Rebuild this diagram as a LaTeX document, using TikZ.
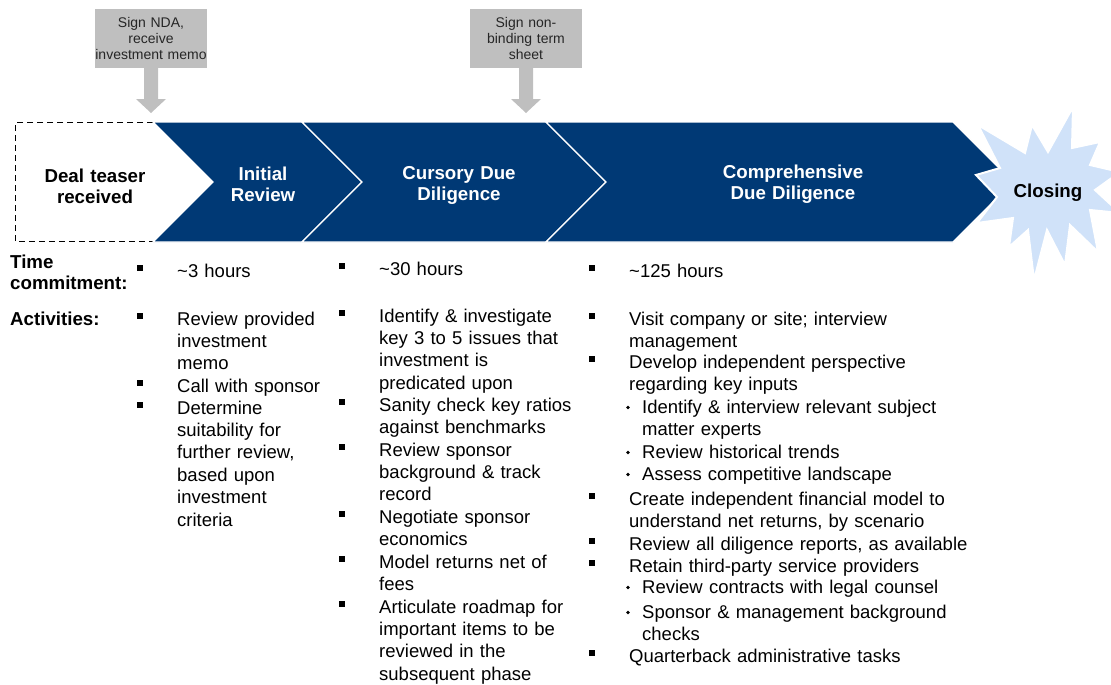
\documentclass[tikz,border=0pt]{standalone}
\usepackage{fontspec}
\setmainfont{Liberation Sans}
\usetikzlibrary{calc}

\definecolor{phaseblue}{RGB}{0,57,117}
\definecolor{sealblue}{RGB}{208,226,249}
\definecolor{calloutgray}{RGB}{191,191,191}
\definecolor{callouttext}{RGB}{38,38,38}

\newcommand\bodyfont{\fontsize{18.5}{22.4}\selectfont}
\newcommand\headfont{\bfseries\fontsize{18.7}{21}\selectfont}
\newcommand\notefont{\fontsize{14}{16}\selectfont}

\tikzset{
  body/.style={font=\bodyfont, inner sep=0, anchor=base west, text width=420, align=left},
  rowlabel/.style={font=\headfont, inner sep=0, anchor=base west, text width=140, align=left},
  phasetext/.style={font=\headfont, inner sep=0, anchor=base, text width=200, align=center},
  phase/.style={fill=phaseblue, draw=white, line width=1.2pt, line join=miter},
  teaserframe/.style={draw=black, line width=1.2pt, dash pattern=on 6pt off 4pt},
  callout/.style={fill=calloutgray, text=callouttext, font=\notefont, inner sep=0,
    minimum width=112, minimum height=59, text width=112, align=center},
  calloutarrow/.style={fill=calloutgray},
  seal/.style={fill=sealblue, draw=white, line width=2pt, line join=miter},
  sqbullet/.style={fill=black, inner sep=0, minimum size=6.5, rectangle},
  dotbullet/.style={fill=black, inner sep=0, minimum size=3.8, circle},
}

% square-bullet item: name, text x, first baseline y, text
\newcommand\sqitem[4]{%
  \node[sqbullet] (#1b) at (#2-37,#3-9) {};
  \node[body] (#1) at (#2,#3) {#4};}
% dot-bullet sub item
\newcommand\dotitem[4]{%
  \node[dotbullet] (#1b) at (#2-14,#3-5.5) {};
  \node[body] (#1) at (#2,#3) {#4};}

\begin{document}
\begin{tikzpicture}[x=1pt,y=-1pt]
\useasboundingbox (0,0) rectangle (1111,685);
\clip (0,0) rectangle (1111,685);

% starting point: dashed frame open on the right
\draw[teaserframe] (153,122.5) -- (15.5,122.5) -- (15.5,241.5) -- (153,241.5);

% phase chevrons
\filldraw[phase] (153,122) -- (302,122) -- (362,182) -- (302,242) -- (153,242) -- (213,182) -- cycle;
\filldraw[phase] (302,122) -- (546,122) -- (606,182) -- (546,242) -- (302,242) -- (362,182) -- cycle;
\filldraw[phase] (546,122) -- (953,122) -- (1013,182) -- (953,242) -- (546,242) -- (606,182) -- cycle;

% closing burst
\filldraw[seal] (1073,107) -- (1072,148) -- (1100,142) -- (1090,165) -- (1120,172) -- (1095,190)
  -- (1120,213) -- (1090,210) -- (1098,252) -- (1070,225) -- (1065,265) -- (1047,230)
  -- (1034,280) -- (1028,230) -- (1009,247) -- (1013,218) -- (977,223) -- (997,197)
  -- (976,175) -- (1000,168) -- (978,125) -- (1025,153) -- (1032,125) -- (1048,152) -- cycle;

% phase titles
\node[phasetext] (teaser) at (95,182) {Deal teaser\\received};
\node[phasetext, text=white] (initial) at (263,180) {Initial\\Review};
\node[phasetext, text=white] (cursory) at (459,179) {Cursory Due\\Diligence};
\node[phasetext, text=white] (compre) at (793,178) {Comprehensive\\Due Diligence};
\node[font=\headfont, inner sep=0, anchor=base] (closing) at (1048,197) {Closing};

% milestones
\node[callout] (nda) at (151,38.5) {Sign NDA,\\receive\\investment memo};
\node[callout] (sheet) at (526,38.5) {Sign non-\\binding term\\sheet};
\coordinate (ndatip) at (151,113);
\coordinate (sheettip) at (526,113);
\fill[calloutarrow] ($(nda.south)+(-7,0)$) -- ($(nda.south)+(7,0)$) -- ($(ndatip)+(7,-14)$)
  -- ($(ndatip)+(15,-14)$) -- (ndatip) -- ($(ndatip)+(-15,-14)$) -- ($(ndatip)+(-7,-14)$) -- cycle;
\fill[calloutarrow] ($(sheet.south)+(-7,0)$) -- ($(sheet.south)+(7,0)$) -- ($(sheettip)+(7,-14)$)
  -- ($(sheettip)+(15,-14)$) -- (sheettip) -- ($(sheettip)+(-15,-14)$) -- ($(sheettip)+(-7,-14)$) -- cycle;

% row labels
\node[rowlabel] (timelbl) at (10,268) {Time\\commitment:};
\node[rowlabel] (actlbl) at (10,325) {Activities:};

% initial review
\sqitem{ta}{177}{277}{\textasciitilde3 hours}
\sqitem{aa}{177}{325}{Review provided\\investment\\memo}
\sqitem{ab}{177}{392}{Call with sponsor}
\sqitem{ac}{177}{414}{Determine\\suitability for\\further review,\\based upon\\investment\\criteria}

% cursory due diligence
\sqitem{tb}{379}{275}{\textasciitilde30 hours}
\sqitem{ba}{379}{322}{Identify \& investigate\\key 3 to 5 issues that\\investment is\\predicated upon}
\sqitem{bb}{379}{411}{Sanity check key ratios\\against benchmarks}
\sqitem{bc}{379}{456}{Review sponsor\\background \& track\\record}
\sqitem{bd}{379}{523}{Negotiate sponsor\\economics}
\sqitem{be}{379}{568}{Model returns net of\\fees}
\sqitem{bf}{379}{613}{Articulate roadmap for\\important items to be\\reviewed in the\\subsequent phase}

% comprehensive due diligence
\sqitem{tc}{629}{277}{\textasciitilde125 hours}
\sqitem{ca}{629}{325}{Visit company or site; interview\\management}
\sqitem{cb}{629}{368}{Develop independent perspective\\regarding key inputs}
\dotitem{cc}{642}{413}{Identify \& interview relevant subject\\matter experts}
\dotitem{cd}{642}{458}{Review historical trends}
\dotitem{ce}{642}{480}{Assess competitive landscape}
\sqitem{cf}{629}{505}{Create independent financial model to\\understand net returns, by scenario}
\sqitem{cg}{629}{550}{Review all diligence reports, as available}
\sqitem{ch}{629}{572}{Retain third-party service providers}
\dotitem{ci}{642}{593}{Review contracts with legal counsel}
\dotitem{cj}{642}{618}{Sponsor \& management background\\checks}
\sqitem{ck}{629}{662}{Quarterback administrative tasks}
\end{tikzpicture}
\end{document}
